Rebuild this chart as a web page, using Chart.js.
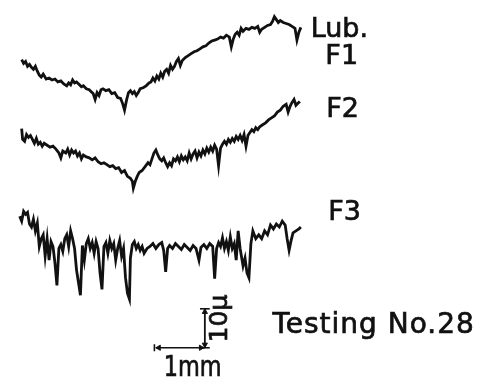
<!DOCTYPE html>
<html>
<head>
<meta charset="utf-8">
<script src="https://cdn.jsdelivr.net/npm/chart.js@4.4.1/dist/chart.umd.min.js"></script>
<style>
  html, body { margin: 0; padding: 0; background: #fff; }
  #wrap { width: 492px; height: 381px; }
</style>
</head>
<body>
<div id="wrap"><canvas id="chart" width="492" height="381"></canvas></div>
<script>
// Surface profile records, Testing No.28
// x: position along the surface (µm), y: profile height (µm) relative to record start

var f1X = [40,80,120,160,200,240,280,320,360,400,440,480,540,600,660,720,780,840,900,960,1000,1040,1080,1120,1160,1220,1260,1300,1360,1420,1460,1500,1540,1580,1620,1660,1700,1760,1820,1880,1940,2000,2060,2100,2140,2180,2220,2260,2300,2340,2380,2420,2460,2520,2580,2640,2680,2720,2760,2800,2840,2880,2920,2960,3000,3040,3080,3120,3160,3200,3240,3280,3320,3380,3440,3500,3560,3620,3680,3740,3800,3860,3920,3980,4040,4100,4160,4220,4280,4320,4360,4400,4440,4480,4520,4560,4620,4680,4740,4800,4860,4900,4940,5000,5060,5120,5160,5200,5240,5280,5320,5380,5440,5500,5560,5620,5660,5700,5740];
var f1Y = [0,-1,-0.5,-1.75,-1.25,-2,-2.5,-1.75,-3,-4,-4.5,-3.75,-5,-4.75,-5.25,-5,-5.75,-5.5,-6.25,-6.75,-6,-6.5,-5.25,-6,-5.75,-6.5,-7,-6.75,-7.5,-7.75,-8.25,-8.75,-10.25,-8.5,-9.25,-7.75,-7.5,-8,-7.75,-8.75,-8.5,-9.75,-10,-11.25,-13,-10.5,-8.5,-8,-8.75,-8.25,-9.25,-8.5,-7.5,-7.25,-6.75,-6,-5.75,-4.75,-5.5,-4.25,-5,-3.5,-4.5,-3,-2.5,-3.5,-1.5,-2.5,-1.75,-0.5,0.25,-1.5,-0.25,0.5,1,1.5,2,2.25,2.75,3.25,3.5,4.25,4.75,5,5.25,5.75,5.5,6.25,5.75,3.25,5.25,6.5,7,6.25,8,7.25,8,7.75,8.25,8,8.5,7,7.75,8.25,8.75,9,9.75,11,10.25,9.5,10,9.5,9.25,9,8.5,8,5,7,8.25];

var f2X = [40,60,100,140,180,220,260,300,340,380,420,460,500,560,620,680,740,800,840,880,940,980,1020,1060,1100,1140,1180,1220,1260,1300,1360,1420,1480,1540,1600,1660,1720,1780,1840,1900,1960,2020,2080,2140,2200,2260,2300,2320,2360,2400,2440,2500,2560,2620,2660,2700,2740,2780,2820,2860,2900,2940,2980,3020,3060,3100,3140,3180,3220,3260,3300,3340,3380,3420,3460,3500,3540,3580,3620,3660,3700,3740,3780,3820,3860,3900,3940,3980,4020,4060,4100,4140,4180,4220,4260,4300,4340,4380,4420,4460,4500,4540,4580,4620,4660,4700,4740,4780,4820,4860,4900,4960,5020,5080,5140,5200,5260,5320,5380,5440,5480,5520,5560,5600,5640,5680,5720];
var f2Y = [0,-2.75,-3.25,-1.5,-2.25,-1.75,-2.75,-3.75,-2.5,-4,-3.5,-4.5,-3.75,-4.25,-4.75,-4.5,-5.25,-6.25,-7.5,-5.75,-6.25,-5.25,-6.75,-5.5,-6.25,-5.75,-7,-6.25,-7.75,-6.75,-7.25,-7.5,-8,-7.5,-8.5,-9,-8.75,-9.25,-9.75,-9.5,-10.25,-10,-11.25,-10.75,-12.25,-12.75,-13.5,-15.25,-13.5,-12.25,-11.25,-10.75,-9.75,-8.75,-9.25,-7.75,-6.25,-5.5,-6.75,-7.75,-8.25,-7.5,-8.75,-9.75,-8.75,-9.5,-7.75,-8.25,-7.25,-8.5,-7,-8,-7.25,-8.25,-6.25,-7.75,-6.5,-5.75,-7.5,-6,-7,-5.5,-6.5,-5,-6,-4.75,-5.75,-4.25,-5.25,-9.5,-5,-4,-3.25,-4,-2.75,-3.5,-2.5,-3.25,-2,-2.75,-1.75,-3,-1.5,-4.5,-1.75,-1,-0.25,-0.75,0.25,-0.25,0.5,1,1.5,2.25,2.75,3.25,4.25,4.75,5.75,6.25,4.25,5.75,6.75,7.5,6,6.5,7];

var f3X = [0,40,80,120,160,200,240,280,320,360,400,440,480,520,560,600,640,680,720,760,800,840,880,920,960,1000,1040,1080,1120,1160,1200,1240,1280,1320,1360,1400,1440,1480,1520,1560,1600,1640,1680,1720,1760,1800,1840,1880,1920,1960,2000,2040,2080,2120,2160,2200,2240,2260,2300,2340,2380,2420,2460,2500,2540,2600,2660,2720,2780,2840,2900,2940,2980,3020,3060,3120,3180,3240,3300,3360,3420,3480,3540,3600,3660,3700,3760,3820,3880,3940,3980,4020,4060,4100,4140,4180,4220,4260,4300,4340,4380,4420,4460,4500,4560,4600,4640,4680,4720,4760,4820,4880,4940,5000,5060,5120,5180,5240,5300,5360,5420,5460,5500,5540,5580,5640,5700,5740];
var f3Y = [0,-1.25,1.25,0.5,1,-2,-2.75,-0.75,-3.75,-1.75,-7.75,-5.75,-4.75,-10.25,-5.75,-11.25,-6.5,-7.75,-12,-17.75,-8.25,-7.25,-9,-5.75,-4.75,-7.75,-3.75,-5.75,-8.25,-13.75,-17,-20.25,-7.5,-11.25,-7,-5.75,-8.25,-6.75,-9.5,-6.5,-8.25,-14.5,-18.75,-7.75,-6.75,-9.5,-6.25,-8.25,-7,-11.25,-8.25,-6.25,-10.25,-8.25,-15.75,-19.75,-21.25,-10.75,-7.25,-6.5,-8.25,-7.25,-8.75,-7.75,-9.5,-8.25,-7.75,-7,-8.25,-7.25,-6.75,-8.75,-14.25,-8.25,-7.5,-8.25,-7,-7.75,-8.5,-7.25,-8,-8.75,-7.5,-8.25,-11.25,-8,-7.25,-8.25,-7,-7.75,-16,-8.25,-6.75,-7.75,-5.5,-8.25,-6.5,-8.75,-5.25,-8.25,-7,-11.25,-3.75,-8.25,-12.75,-10.75,-14.5,-15.75,-7,-3.75,-5.75,-4.75,-5.75,-3.75,-4.75,-2.25,-3.25,-2,-2.75,-1.25,-2.25,-5.75,-8.75,-6.25,-4.25,-3.75,-3.25,-2.75];

var traceNames = ['F1', 'F2', 'F3'];
var traceOffsets = [81.25, 63.5, 41];   // µm, vertical spacing of the records on the sheet

// scale markers
var scaleLenX = 1000;   // 1 mm
var scaleLenY = 10;     // 10 µ
var scaleOrigin = { x: 3780, y: 7.25 };

function toPoints(xs, ys, off) {
  return xs.map(function(x, i) { return { x: x, y: ys[i] + off }; });
}

var ink = '#111';

function traceSet(name, xs, ys, off) {
  return {
    label: name,
    data: toPoints(xs, ys, off),
    borderColor: ink,
    borderWidth: 2.8,
    pointRadius: 0,
    tension: 0,
    borderJoinStyle: 'miter'
  };
}

function barSet(pts, w) {
  return {
    label: '',
    data: pts,
    borderColor: ink,
    borderWidth: w,
    pointRadius: 0,
    tension: 0
  };
}

var ox = scaleOrigin.x, oy = scaleOrigin.y;

var datasets = [
  traceSet(traceNames[0], f1X, f1Y, traceOffsets[0]),
  traceSet(traceNames[1], f2X, f2Y, traceOffsets[1]),
  traceSet(traceNames[2], f3X, f3Y, traceOffsets[2]),
  // horizontal 1 mm bar
  barSet([{ x: ox - scaleLenX, y: oy }, { x: ox, y: oy }], 1.4),
  barSet([{ x: ox - scaleLenX - 30, y: oy - 0.9 }, { x: ox - scaleLenX - 30, y: oy + 0.9 }], 1.6),
  // vertical 10 µ bar
  barSet([{ x: ox, y: oy }, { x: ox, y: oy + scaleLenY }], 1.8),
  barSet([{ x: ox - 100, y: oy + scaleLenY }, { x: ox + 100, y: oy + scaleLenY }], 1.6),
  barSet([{ x: ox - 100, y: oy }, { x: ox + 100, y: oy }], 1.6),
  // arrow heads
  {
    label: '',
    type: 'scatter',
    data: [
      { x: ox - scaleLenX + 60, y: oy },
      { x: ox - 80, y: oy },
      { x: ox, y: oy + scaleLenY - 0.8 },
      { x: ox, y: oy + 0.8 }
    ],
    pointStyle: 'triangle',
    rotation: [-90, 90, 0, 180],
    radius: 3,
    backgroundColor: ink,
    borderColor: ink,
    borderWidth: 1
  }
];

// text on the sheet, placed in data units
var sheetLabels = [
  { text: 'Lub.', x: 5940, y: 87, size: 27 },
  { text: 'F1', x: 6240, y: 80, size: 27 },
  { text: 'F2', x: 6260, y: 66.5, size: 27 },
  { text: 'F3', x: 6300, y: 40, size: 27 },
  { text: 'Testing No.28', x: 5160, y: 11, size: 28, spacing: 1 },
  { text: '1mm', x: 2940, y: 0, size: 28, sx: 0.8 },
  { text: '10μ', x: 4090, y: 14.75, size: 25, rotate: true }
];

var sheetText = {
  id: 'sheetText',
  afterDatasetsDraw: function(chart) {
    var ctx = chart.ctx;
    var xs = chart.scales.x, ys = chart.scales.y;
    ctx.save();
    ctx.fillStyle = ink;
    ctx.strokeStyle = ink;
    ctx.lineWidth = 0.7;
    sheetLabels.forEach(function(l) {
      var px = xs.getPixelForValue(l.x);
      var py = ys.getPixelForValue(l.y);
      ctx.font = l.size + 'px "DejaVu Sans", sans-serif';
      ctx.save();
      ctx.letterSpacing = (l.spacing || 0) + 'px';
      ctx.translate(px, py);
      if (l.sx) ctx.scale(l.sx, 1);
      if (l.rotate) {
        ctx.rotate(-Math.PI / 2);
        ctx.textAlign = 'center';
        ctx.textBaseline = 'middle';
      } else {
        ctx.textAlign = 'left';
        ctx.textBaseline = 'alphabetic';
      }
      ctx.fillText(l.text, 0, 0);
      ctx.strokeText(l.text, 0, 0);
      ctx.restore();
    });
    ctx.restore();
  }
};

var ctx = document.getElementById('chart').getContext('2d');
var chart = new Chart(ctx, {
  type: 'line',
  data: { datasets: datasets },
  options: {
    responsive: false,
    animation: false,
    layout: { padding: 0 },
    plugins: {
      legend: { display: false },
      tooltip: { enabled: false }
    },
    scales: {
      x: { type: 'linear', min: -300, max: 9540, display: false },
      y: { type: 'linear', min: 0, max: 95.25, display: false }
    }
  },
  plugins: [sheetText]
});
</script>
</body>
</html>
